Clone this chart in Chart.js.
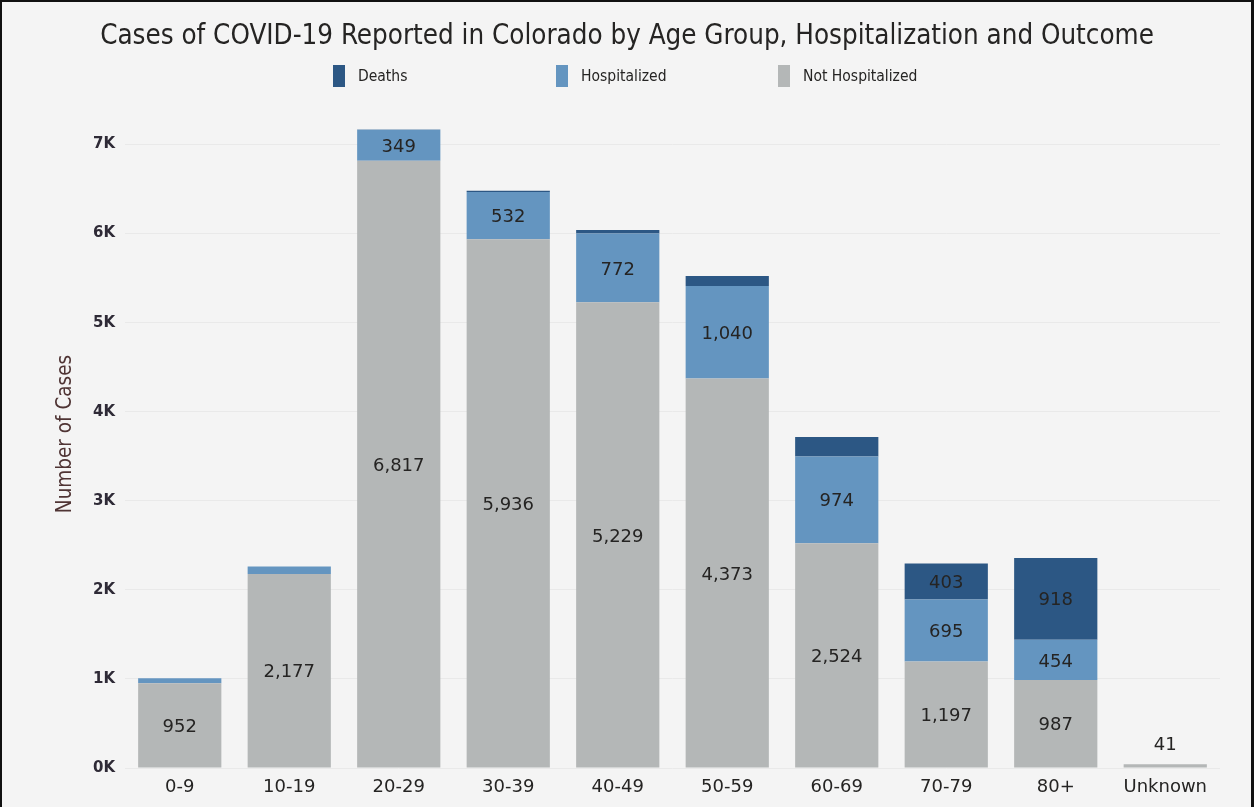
<!DOCTYPE html>
<html>
<head>
<meta charset="utf-8">
<script src="https://cdn.jsdelivr.net/npm/chart.js@4"></script>
<style>
    html, body { margin: 0; padding: 0; background: #f4f4f4; }
    #wrap { position: relative; width: 1254px; height: 807px; overflow: hidden; }
    #frame { position: absolute; left: 0; top: 0; width: 1249px; height: 807px;
             border: 2px solid #111; border-right-width: 3px; border-bottom: none; pointer-events: none; }
    #title { position: absolute; left: 0; right: 0; top: 18px; text-align: center;
             font: 27.5px "DejaVu Sans Condensed", "DejaVu Sans", sans-serif; color: #252423; }
    .leg { position: absolute; top: 65px; height: 22px; display: flex; align-items: center;
           font: 15.5px "DejaVu Sans Condensed", "DejaVu Sans", sans-serif; color: #252423; }
    .leg span.box { display: inline-block; width: 12px; height: 22px; margin-right: 13px; }
</style>
</head>
<body>
<div id="wrap">
    <canvas id="ageChart" width="1254" height="807"></canvas>
    <div id="title">Cases of COVID-19 Reported in Colorado by Age Group, Hospitalization and Outcome</div>
    <div class="leg" style="left:333px"><span class="box" style="background:#2c5784"></span>Deaths</div>
    <div class="leg" style="left:556px"><span class="box" style="background:#6495c0"></span>Hospitalized</div>
    <div class="leg" style="left:778px"><span class="box" style="background:#b4b7b7"></span>Not Hospitalized</div>
    <div id="frame"></div>
</div>
<script>
// ==== DATA ====
const ageGroups = ["0-9", "10-19", "20-29", "30-39", "40-49", "50-59", "60-69", "70-79", "80+", "Unknown"];
const notHospitalized = [952, 2177, 6817, 5936, 5229, 4373, 2524, 1197, 987, 41];
const hospitalized = [55, 85, 349, 532, 772, 1040, 974, 695, 454, 0];
const deaths = [0, 0, 4, 12, 40, 110, 218, 403, 918, 0];

const colors = { deaths: "#2c5784", hosp: "#6495c0", notHosp: "#b4b7b7" };

// ===== VALUE LABELS =====
const barLabels = {
    id: "barLabels",
    afterDatasetsDraw(chart) {
        const ctx = chart.ctx;
        ctx.save();
        ctx.font = '18px "DejaVu Sans", sans-serif';
        ctx.fillStyle = "#252423";
        ctx.textAlign = "center";
        ctx.textBaseline = "middle";
        chart.data.datasets.forEach((ds, i) => {
            chart.getDatasetMeta(i).data.forEach((bar, j) => {
                const v = ds.data[j];
                const total = notHospitalized[j] + hospitalized[j] + deaths[j];
                if (v >= 300) {
                    ctx.fillText(v.toLocaleString("en-US"), bar.x, (bar.y + bar.base) / 2 + 2);
                } else if (v > 0 && v === total) {
                    // tiny bar, put the label above it
                    ctx.fillText(v.toLocaleString("en-US"), bar.x, bar.y - 19);
                }
            });
        });
        ctx.restore();
    }
};

new Chart(document.getElementById("ageChart"), {
    type: "bar",
    data: {
        labels: ageGroups,
        datasets: [
            { label: "Not Hospitalized", data: notHospitalized, backgroundColor: colors.notHosp },
            { label: "Hospitalized", data: hospitalized, backgroundColor: colors.hosp },
            { label: "Deaths", data: deaths, backgroundColor: colors.deaths }
        ]
    },
    options: {
        responsive: false,
        animation: false,
        layout: { padding: { top: 100, left: 53, right: 34, bottom: 0 } },
        datasets: { bar: { barPercentage: 0.76, categoryPercentage: 1 } },
        plugins: {
            legend: { display: false },
            title: { display: false },
            tooltip: { enabled: false }
        },
        scales: {
            x: {
                stacked: true,
                grid: { display: false },
                border: { display: false },
                ticks: {
                    padding: 1,
                    color: "#252423",
                    font: { family: '"DejaVu Sans"', size: 18 }
                },
                afterFit: (scale) => { scale.height = 39; }
            },
            y: {
                stacked: true,
                min: 0,
                max: 7500,
                border: { display: false },
                grid: { color: "#e9e9e9", drawTicks: false },
                afterBuildTicks: (scale) => {
                    scale.ticks = scale.ticks.filter(t => t.value % 1000 === 0);
                },
                ticks: {
                    stepSize: 500,
                    padding: 10,
                    color: "#2e2a36",
                    font: { family: '"DejaVu Sans"', size: 15, weight: "bold" },
                    callback: (v) => (v / 1000) + "K"
                },
                title: {
                    display: true,
                    text: "Number of Cases",
                    color: "#4f3434",
                    padding: 0,
                    font: { family: '"DejaVu Sans Condensed"', size: 20.5 }
                },
                afterFit: (scale) => { scale.width = 72; }
            }
        }
    },
    plugins: [barLabels]
});
</script>
</body>
</html>
